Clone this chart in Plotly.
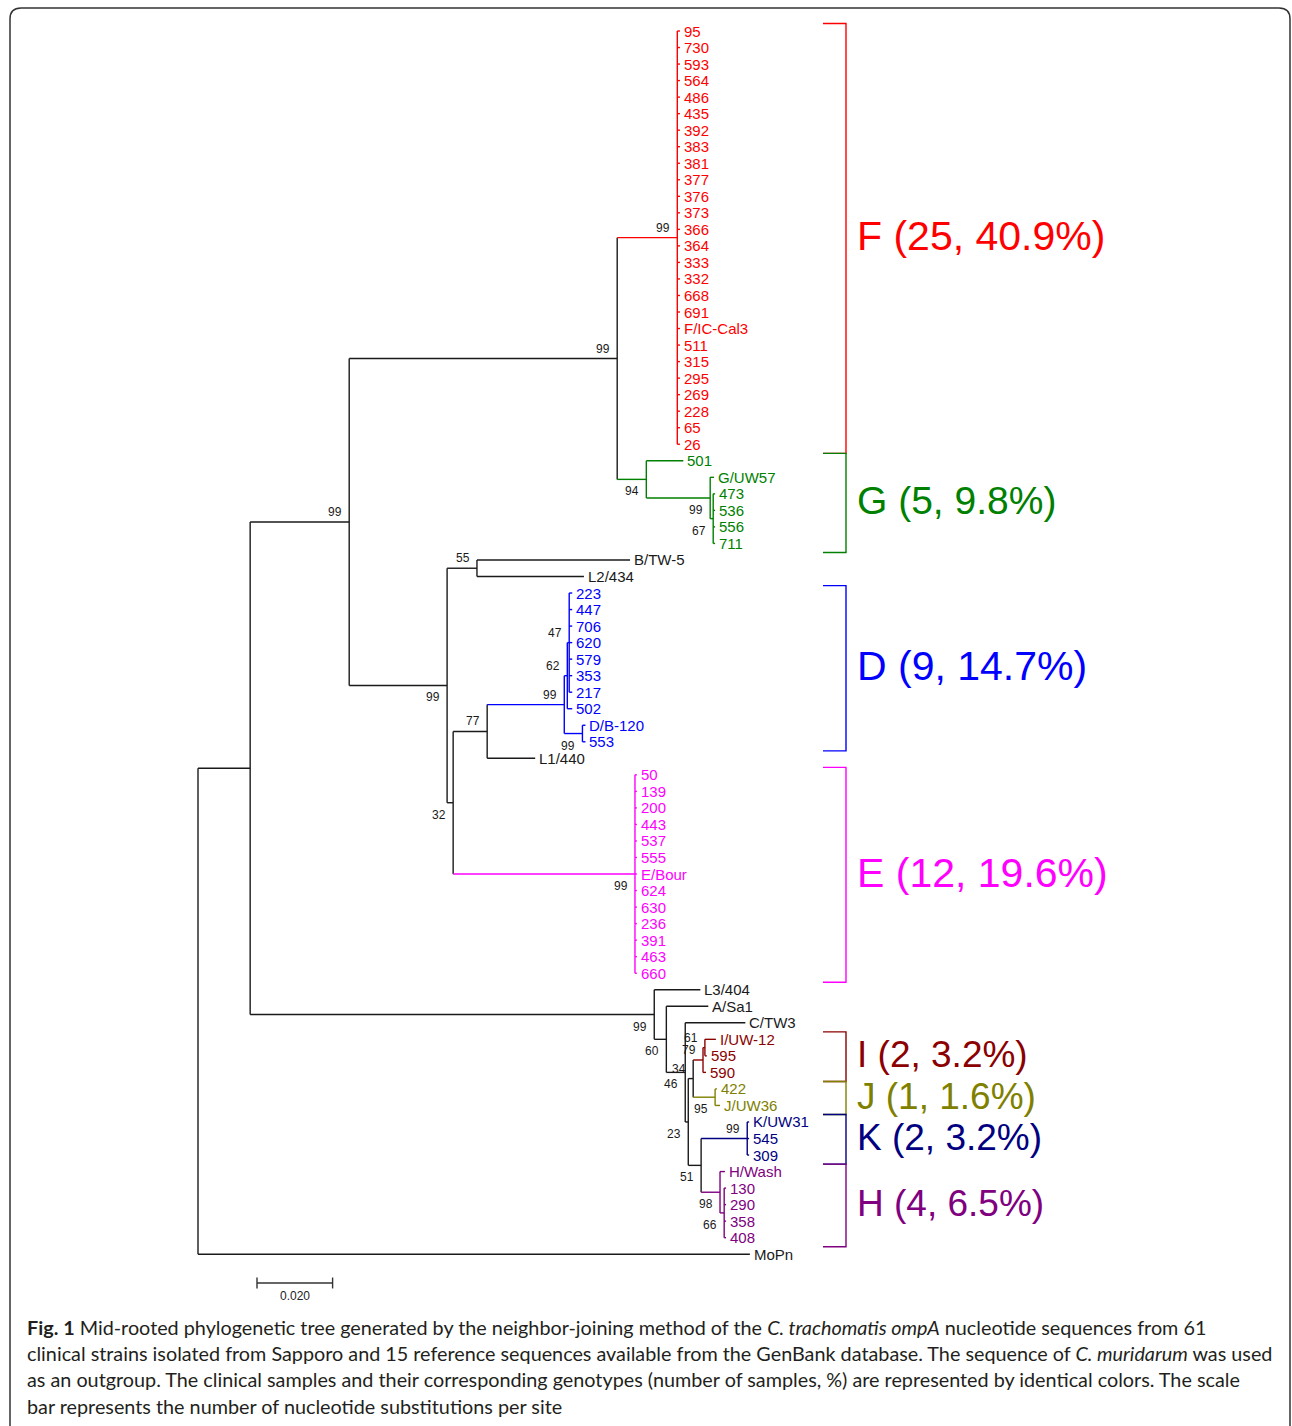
import plotly.graph_objects as go
from collections import defaultdict

W, H = 1292, 1426

# ---------------- data ----------------
leaf_labels = [
    "95", "730", "593", "564", "486", "435", "392", "383", "381", "377", "376", "373", "366",
    "364", "333", "332", "668", "691", "F/IC-Cal3", "511", "315", "295", "269", "228", "65", "26",
    "501", "G/UW57", "473", "536", "556", "711",
    "B/TW-5", "L2/434",
    "223", "447", "706", "620", "579", "353", "217", "502", "D/B-120", "553",
    "L1/440",
    "50", "139", "200", "443", "537", "555", "E/Bour", "624", "630", "236", "391", "463", "660",
    "L3/404", "A/Sa1", "C/TW3",
    "I/UW-12", "595", "590",
    "422", "J/UW36",
    "K/UW31", "545", "309",
    "H/Wash", "130", "290", "358", "408",
    "MoPn",
]
leaf_parents = (
    ["nF"] * 26
    + ["nG", "nG2", "nG3", "nG3", "nG3", "nG3"]
    + ["nBL2", "nBL2"]
    + ["nD2"] * 7 + ["nD1", "nDB", "nDB"]
    + ["nDL1"]
    + ["nE"] * 13
    + ["nB", "nC", "n46"]
    + ["nI2", "nI2", "nI"]
    + ["nJ", "nJ"]
    + ["nK", "nK", "nK"]
    + ["nH", "nH2", "nH2", "nH2", "nH2"]
    + ["root"]
)
leaf_lengths = (
    [0.0007] * 26
    + [0.0098, 0.0010, 0.0005, 0.0005, 0.0005, 0.0005]
    + [0.0405, 0.0283]
    + [0.0008] * 7 + [0.0013, 0.0008, 0.0008]
    + [0.0127]
    + [0.0005] * 13
    + [0.0122, 0.0111, 0.0159]
    + [0.0029, 0.0005, 0.0008]
    + [0.0005, 0.0013]
    + [0.0005, 0.0005, 0.0005]
    + [0.0013, 0.0005, 0.0005, 0.0005, 0.0005]
    + [0.1460]
)

internal_names = ["ingroup", "nA", "nFG", "nF", "nG", "nG2", "nG3", "nBDE", "nBL2", "nDLE",
                  "nDL1", "nD", "nD1", "nD2", "nDB", "nE", "nB", "nC", "n46", "n23", "n34",
                  "nI", "nI2", "nJ", "n51", "nK", "nH", "nH2"]
internal_parents = ["root", "ingroup", "nA", "nFG", "nFG", "nG", "nG2", "nA", "nBDE", "nBDE",
                    "nDLE", "nDL1", "nD", "nD1", "nD", "nDLE", "ingroup", "nB", "nC", "n46", "n23",
                    "n34", "nI", "n34", "n23", "n51", "n51", "nH"]
internal_lengths = [0.0138, 0.0262, 0.0709, 0.0159, 0.0077, 0.0169, 0.0008, 0.0259, 0.0079, 0.0016,
                    0.0090, 0.0204, 0.0008, 0.0005, 0.0048, 0.0481, 0.1069, 0.0032, 0.0050, 0.0008, 0.0013,
                    0.0026, 0.0005, 0.0058, 0.0034, 0.0122, 0.0050, 0.0011]

bootstrap_nodes = ["nA", "nFG", "nF", "nG", "nG2", "nG3", "nBDE", "nBL2", "nDLE", "nDL1", "nD", "nD1",
                   "nD2", "nDB", "nE", "nB", "nC", "n46", "n23", "n34", "nI", "nI2", "nJ", "n51",
                   "nK", "nH", "nH2"]
bootstrap_values = [99, 99, 99, 94, 99, 67, 99, 55, 32, 77, 99, 62,
                    47, 99, 99, 99, 60, 46, 23, 34, 79, 61, 95, 51,
                    99, 98, 66]

clade_nodes = ["nF", "nG", "nD", "nE", "nI", "nJ", "nK", "nH"]
clade_colors = ["#FF0000", "#008000", "#0000FF", "#FF00FF", "#8B0000", "#808000", "#000080", "#800080"]
group_letters = ["F", "G", "D", "E", "I", "J", "K", "H"]
group_counts = [25, 5, 9, 12, 2, 1, 2, 4]
group_percents = [40.9, 9.8, 14.7, 19.6, 3.2, 1.6, 3.2, 6.5]
group_font_sizes = [41, 39, 41, 41, 37, 37, 37, 37]

scale_bar_value = 0.020

caption_lines = [
    "<b>Fig. 1</b> Mid-rooted phylogenetic tree generated by the neighbor-joining method of the "
    "<i>C. trachomatis ompA</i> nucleotide sequences from 61",
    "clinical strains isolated from Sapporo and 15 reference sequences available from the GenBank "
    "database. The sequence of <i>C. muridarum</i> was used",
    "as an outgroup. The clinical samples and their corresponding genotypes (number of samples, %) "
    "are represented by identical colors. The scale",
    "bar represents the number of nucleotide substitutions per site",
]

# ---------------- layout constants ----------------
PX_PER_UNIT = 3780.0
ROOT_PX = 198.0
LEAF_PX = 16.53
FIRST_LEAF_PX = 31.0
BLACK = "#1a1a1a"
TREE_FONT = "Liberation Sans, Arial, sans-serif"

x_range = [-ROOT_PX / PX_PER_UNIT, (W - ROOT_PX) / PX_PER_UNIT]
y_range = [(H - FIRST_LEAF_PX) / LEAF_PX, -FIRST_LEAF_PX / LEAF_PX]

# ---------------- build tree ----------------
parent, blen = {}, {}
for n, p, l in zip(internal_names, internal_parents, internal_lengths):
    parent[n], blen[n] = p, l
for n, p, l in zip(leaf_labels, leaf_parents, leaf_lengths):
    parent[n], blen[n] = p, l
children = defaultdict(list)
for n in list(internal_names) + list(leaf_labels):
    children[parent[n]].append(n)
leaf_idx = {n: i for i, n in enumerate(leaf_labels)}


def min_leaf(n):
    if n in leaf_idx:
        return leaf_idx[n]
    return min(min_leaf(c) for c in children[n])


for k in children:
    children[k].sort(key=min_leaf)

X, Y, COL = {}, {}, {}
clade_col = dict(zip(clade_nodes, clade_colors))


def place(n, x, col):
    X[n] = x
    COL[n] = clade_col.get(n, col)
    for c in children[n]:
        place(c, x + blen[c], COL[n])
    if n in leaf_idx:
        Y[n] = leaf_idx[n]
    else:
        Y[n] = (Y[children[n][0]] + Y[children[n][-1]]) / 2.0


place("root", 0.0, BLACK)

segs = defaultdict(lambda: ([], []))
for n in X:
    if n != "root":
        xs, ys = segs[COL[n]]
        xs += [X[parent[n]], X[n], None]
        ys += [Y[n], Y[n], None]
    if children[n]:
        xs, ys = segs[COL[n]]
        xs += [X[n], X[n], None]
        ys += [Y[children[n][0]], Y[children[n][-1]], None]

fig = go.Figure()
for col, (xs, ys) in segs.items():
    fig.add_trace(go.Scatter(x=xs, y=ys, mode="lines", line=dict(color=col, width=1.4),
                             hoverinfo="skip", showlegend=False))

ann = []
# leaf labels
for n in leaf_labels:
    ann.append(dict(x=X[n], y=Y[n], text=n, showarrow=False, xanchor="left", yanchor="middle",
                    xshift=2, font=dict(family=TREE_FONT, size=15, color=COL[n])))

# bootstrap labels
for n, v in zip(bootstrap_nodes, bootstrap_values):
    sib = children[parent[n]]
    above = sib[0] == n
    ann.append(dict(x=X[n], y=Y[n], text=str(v), showarrow=False, xanchor="right", yanchor="middle",
                    xshift=-5, yshift=10 if above else -12,
                    font=dict(family=TREE_FONT, size=12, color=BLACK)))

# brackets and group labels
BR_X = (846 - ROOT_PX) / PX_PER_UNIT
BR_TICK = 23 / PX_PER_UNIT


def leaves_under(n):
    if n in leaf_idx:
        return [leaf_idx[n]]
    out = []
    for c in children[n]:
        out += leaves_under(c)
    return out


for node, col, letter, cnt, pct, fs in zip(clade_nodes, clade_colors, group_letters, group_counts,
                                           group_percents, group_font_sizes):
    idx = leaves_under(node)
    top, bot = min(idx) - 0.45, max(idx) + 0.55
    fig.add_trace(go.Scatter(x=[BR_X - BR_TICK, BR_X, BR_X, BR_X - BR_TICK], y=[top, top, bot, bot],
                             mode="lines", line=dict(color=col, width=1.4), hoverinfo="skip",
                             showlegend=False))
    ann.append(dict(x=BR_X, y=(top + bot) / 2, text=f"{letter} ({cnt}, {pct}%)", showarrow=False,
                    xanchor="left", yanchor="middle", xshift=9, yshift=2,
                    font=dict(family=TREE_FONT, size=fs, color=col)))

# scale bar
SB_X0 = (257 - ROOT_PX) / PX_PER_UNIT
SB_Y = (1283 - FIRST_LEAF_PX) / LEAF_PX
tk = 0.33
fig.add_trace(go.Scatter(x=[SB_X0, SB_X0 + scale_bar_value, None, SB_X0, SB_X0, None,
                            SB_X0 + scale_bar_value, SB_X0 + scale_bar_value],
                         y=[SB_Y, SB_Y, None, SB_Y - tk, SB_Y + tk, None, SB_Y - tk, SB_Y + tk],
                         mode="lines", line=dict(color="#333333", width=1.4), hoverinfo="skip",
                         showlegend=False))
ann.append(dict(x=SB_X0 + scale_bar_value / 2, y=SB_Y, text=f"{scale_bar_value:.3f}", showarrow=False,
                xanchor="center", yanchor="top", yshift=-4,
                font=dict(family=TREE_FONT, size=12, color="#222222")))

# caption
cap_y = [1327, 1353, 1379, 1406]
for t, py in zip(caption_lines, cap_y):
    ann.append(dict(xref="paper", yref="paper", x=25 / W, y=1 - py / H, text=t, showarrow=False,
                    xanchor="left", yanchor="middle",
                    font=dict(family="Lato, Open Sans, sans-serif", size=19.8, color="#231f20")))

# border
xl, xr, yt = 10 / W, 1290 / W, 1 - 8 / H
rx, ry = 11 / W, 11 / H
border = (f"M {xl},-0.02 L {xl},{yt - ry} Q {xl},{yt} {xl + rx},{yt} L {xr - rx},{yt} "
          f"Q {xr},{yt} {xr},{yt - ry} L {xr},-0.02")

fig.update_layout(
    width=W, height=H, autosize=False,
    margin=dict(l=0, r=0, t=0, b=0, pad=0),
    paper_bgcolor="white", plot_bgcolor="white",
    xaxis=dict(range=x_range, visible=False, fixedrange=True),
    yaxis=dict(range=y_range, visible=False, fixedrange=True),
    annotations=ann,
    shapes=[dict(type="path", xref="paper", yref="paper", path=border,
                 line=dict(color="#333333", width=1.5))],
)

fig.write_html("out.html", config={"displayModeBar": False},
               post_script="document.body.style.margin='0';document.body.style.overflow='hidden';")
